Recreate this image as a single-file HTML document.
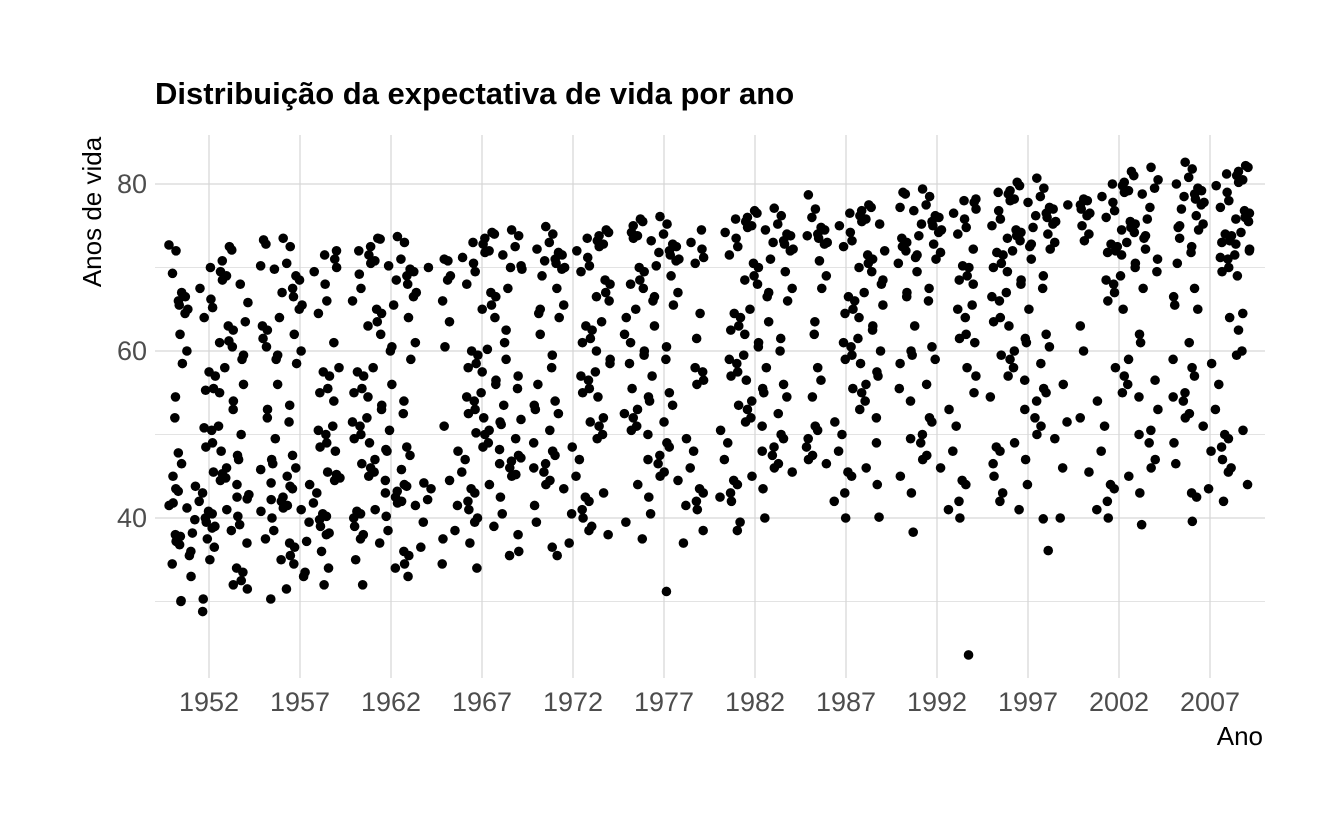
<!DOCTYPE html>
<html><head><meta charset="utf-8"><style>
body{margin:0;background:#fff;}
svg{display:block;font-family:"Liberation Sans",sans-serif;}
</style></head><body>
<svg id="chart" width="1344" height="830">
<rect width="1344" height="830" fill="#fff"/>
<text x="155" y="104" font-size="31" font-weight="bold" fill="#000">Distribuição da expectativa de vida por ano</text>
<g id="grid"></g>
<g id="points"></g>
<g id="axes"></g>
<text transform="translate(101,212) rotate(-90)" text-anchor="middle" font-size="26" fill="#000">Anos de vida</text>
<text x="1263" y="745" text-anchor="end" font-size="26" fill="#000">Ano</text>
</svg>
<script>
const years=[1952,1957,1962,1967,1972,1977,1982,1987,1992,1997,2002,2007];
const yTicks=[40,60,80];
const yMinor=[30,50,70];
const v1952=[72.7,72.5,72.1,72,70.8,70,69.5,69.3,69,68.5,68,67.5,67,66.5,66.2,66,65.8,65.5,65.2,65,64.5,64,63.5,63,62.5,62,61.2,61,60.5,60,59.5,59,58.5,58,57.5,57,56,55.5,55.3,55,54.5,54,53,52,51,50.8,50.5,50,49,48.5,48,47.8,47.5,47,46.5,46,45.5,45.3,45,44.8,44.5,44,43.8,43.5,43.2,43,42.8,42.5,42.3,42,41.8,41.5,41.2,41,40.8,40.5,40.2,40,39.8,39.5,39.2,39,38.8,38.5,38.2,38,37.8,37.5,37.2,37,36.8,36.5,36,35.5,35,34.5,34,33.5,33,32.5,32,31.5,30.3,30.1,30,28.8];
const v1957=[73.5,73.3,72.8,72.5,72,71.5,71,70.5,70.2,70,69.8,69.5,69,68.5,68,67.5,67,66.5,66,65.5,65,64.5,64,63,62.5,62,61.5,61,60.5,60,59.5,59,58.5,58,57.5,57,56,55.5,55,54,53.5,53,52,51.5,51,50.5,50,49.5,49,48.5,48,47.5,47,46.5,46,45.8,45.5,45.2,45,44.8,44.5,44.2,44,43.8,43.5,43,42.5,42.2,42,41.8,41.5,41.2,41,40.8,40.5,40.2,40,39.8,39.5,39,38.5,38.2,38,37.5,37.2,37,36.5,36,35.5,35,34.5,34,33.5,33,32,31.5,30.3];
const v1962=[73.7,73.5,73.4,73,72.5,72,71.5,71,70.8,70.5,70.2,70,69.8,69.5,69.2,69,68.5,68,67.5,67,66.5,66,65.5,65,64.5,64,63.5,63,62,61,60.5,60,59,58,57.5,57,56,55.5,55,54.5,54,53.5,53,52.5,52,51.5,51,50.5,50,49.5,49,48.5,48.2,48,47.5,47,46.5,46,45.8,45.5,45,44.5,44.2,44,43.8,43.5,43.2,43,42.5,42.2,42,41.8,41.5,41,40.8,40.5,40.2,40,39.5,39,38.5,38,37.5,37,36.5,36,35.5,35,34.5,34,33,32];
const v1967=[74.5,74.2,74,73.8,73.5,73,72.8,72.5,72,71.8,71.5,71.2,71,70.8,70.5,70.2,70,69.8,69.5,69,68.5,68,67.5,67,66.5,66,65.5,65,64,63.5,62.5,61,60.5,60.2,60,59.5,59,58.5,58,57.5,57,56.5,56,55.5,55,54.5,54,53.5,53,52.5,52,51.8,51.5,51.2,51,50.5,50.2,50,49.5,49,48.5,48.2,48,47.5,47.2,47,46.8,46.5,46,45.5,45.2,45,44.5,44,43.5,43,42.5,42,41.5,41,40.5,40,39.5,39,38.5,38,37.5,37,36,35.5,34.5,34];
const v1972=[74.9,74.5,74.2,74,73.8,73.5,73.2,73,72.8,72.5,72.2,72,71.8,71.5,71.2,71,70.8,70.5,70.2,70,69.8,69.5,69,68.5,68,67.5,67,66.5,66,65.5,65,64.5,64,63.5,63,62.5,62,61.5,61,60,59.5,59,58.5,58,57.5,57,56.5,56,55.5,55,54.5,54,53.5,53,52.5,52,51.5,51,50.5,50,49.5,49,48.5,48,47.5,47,46.5,46,45.5,45,44.5,44,43.5,43,42.5,42,41.5,41,40.5,40,39.5,39,38.5,38,37,36.5,35.5];
const v1977=[76.1,75.8,75.5,75.2,75,74.5,74.2,74,73.8,73.5,73.2,73,72.8,72.5,72.2,72,71.8,71.5,71.2,71,70.8,70.5,70.2,70,69.5,69,68.5,68,67.5,67,66.5,66,65.5,65,64.5,64,63,62,61.5,61,60.5,60,59.5,59,58.5,58,57.5,57,56.5,56,55.5,55,54.5,54,53.5,53,52.5,52,51.5,51,50.5,50,49.5,49,48.5,48,47.5,47,46.5,46,45.5,45,44.5,44,43.5,43,42.5,42,41.5,41,40.5,39.5,38.5,37.5,37,31.2];
const v1982=[77.1,76.8,76.5,76.2,76,75.8,75.5,75.2,75,74.8,74.5,74.2,74,73.8,73.5,73.2,73,72.8,72.5,72.2,72,71.5,71,70.5,70,69.5,69,68.5,68,67.5,67,66.5,66,65,64.5,64,63.5,63,62.5,62,61.5,61,60.5,60,59.5,59,58.5,58,57.5,57,56.5,56,55.5,55,54.5,54,53.5,53,52.5,52,51.5,51,50.5,50,49.5,49,48.5,48,47.5,47,46.5,46,45.5,45,44.5,44,43.5,43,42.5,42,40,39.5,38.5];
const v1987=[78.7,77.5,77.2,77,76.8,76.5,76.2,76,75.8,75.5,75.2,75,74.8,74.5,74.2,74,73.8,73.5,73.2,73,72.8,72.5,72,71.5,71,70.8,70.5,70,69.5,69,68.5,68,67.5,67,66.5,66,65.5,65,64.5,64,63.5,63,62.5,62,61.5,61,60.5,60,59.5,59,58.5,58,57.5,57,56.5,56,55.5,55,54.5,54,53,52,51.5,51,50.5,50,49.5,49,48.5,48,47.5,47,46.5,46,45.5,45,44,43,42,40,40.1];
const v1992=[79.4,79,78.8,78.5,78.2,78,77.8,77.5,77.2,77,76.8,76.5,76.2,76,75.8,75.5,75.2,75,74.8,74.5,74.2,74,73.8,73.5,73,72.8,72.5,72.2,72,71.8,71.5,71.2,71,70.5,70.2,70,69.5,69,68.5,68,67.5,67,66.5,66,65.5,65,64,63,62,61.5,61,60.5,60,59.5,59,58.5,58,57,56,55.5,55,54,53,52,51.5,51,50,49.5,49,48,47.5,47,46,45,44.5,44,43,42,41,40,38.3,23.6];
const v1997=[80.7,80.2,79.8,79.5,79.2,79,78.8,78.5,78.2,78,77.8,77.5,77.2,77,76.8,76.5,76.2,76,75.8,75.5,75.2,75,74.8,74.5,74.2,74,73.8,73.5,73.2,73,72.8,72.5,72.2,72,71.8,71.5,71,70.5,70,69.5,69,68.5,68,67.5,67,66.5,66,65,64,63.5,63,62,61.5,61,60.5,60,59.5,59,58.5,58,57,56.5,56,55.5,55,54.5,54,53,52,51.5,51,50,49.5,49,48.5,48,47,46.5,46,45,44,43,42,41,40,39.9,36.1];
const v2002=[82,81.5,81,80.5,80.2,80,79.8,79.5,79.2,79,78.8,78.5,78.2,78,77.8,77.5,77.2,77,76.8,76.5,76.2,76,75.8,75.5,75.2,75,74.8,74.5,74.2,74,73.8,73.5,73.2,73,72.8,72.5,72.2,72,71.8,71.5,71,70.5,70,69.5,69,68.5,68,67.5,67,66,65,63,62,61,60,59,58,57,56.5,56,55,54.5,54,53,52,51,50.5,50,49,48,47,46,45.5,45,44,43.5,43,42,41,40,39.2];
const v2007=[82.6,82.2,82,81.8,81.5,81.2,81,80.8,80.5,80.2,80,79.8,79.5,79.2,79,78.8,78.5,78.2,78,77.8,77.5,77.2,77,76.8,76.5,76.2,76,75.8,75.5,75.2,75,74.8,74.5,74.2,74,73.8,73.5,73.2,73,72.8,72.5,72.2,72,71.8,71.5,71.2,71,70.5,70,69.5,69,67.5,66.5,65.5,65,64.5,64,62.5,61,60,59.5,59,58.5,58,57,56,55,54.5,54,53,52.5,52,51,50.5,50,49.5,49,48.5,48,47,46.5,46,45.5,44,43.5,43,42.5,42,39.6];
const series=[v1952,v1957,v1962,v1967,v1972,v1977,v1982,v1987,v1992,v1997,v2002,v2007];

const NS="http://www.w3.org/2000/svg";
const xS=yr=>209+(yr-1952)*18.2;
const yS=v=>518-(v-40)*8.35;
const L=155,R=1265,T=135,B=678;
const grid=document.getElementById('grid'),pts=document.getElementById('points'),axes=document.getElementById('axes');
function mk(tag,attrs,parent){const e=document.createElementNS(NS,tag);for(const k in attrs)e.setAttribute(k,attrs[k]);parent.appendChild(e);return e;}
yMinor.forEach(v=>{const l=mk('line',{x1:L,x2:R,y1:yS(v),y2:yS(v),stroke:'#e3e3e3','stroke-width':1},grid);

});
yTicks.forEach(v=>{const l=mk('line',{x1:L,x2:R,y1:yS(v),y2:yS(v),stroke:'#d6d6d6','stroke-width':1.2},grid);


const t=mk('text',{x:147,y:yS(v)+9,'text-anchor':'end','font-size':27,fill:'#4d4d4d'},axes);t.textContent=v;

});
years.forEach(yr=>{const l=mk('line',{x1:xS(yr),x2:xS(yr),y1:T,y2:B,stroke:'#d6d6d6','stroke-width':1.2},grid);


const t=mk('text',{x:xS(yr),y:711,'text-anchor':'middle','font-size':27,fill:'#4d4d4d'},axes);t.textContent=yr;

});
const phi=0.6180339887;
series.forEach((vals,si)=>{vals.forEach((v,i)=>{const off=(((i*phi+i*i*0.1371+si*0.29))%1-0.5)*4.4;
const c=mk('circle',{cx:xS(years[si]+off),cy:yS(v),r:4.8,fill:'#000'},pts);

});});
</script>
</body></html>
